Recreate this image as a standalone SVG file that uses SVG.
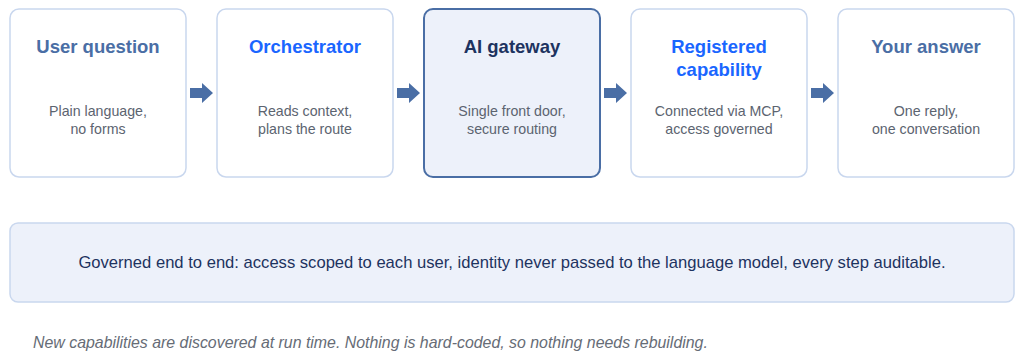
<svg xmlns="http://www.w3.org/2000/svg" width="1024" height="362" viewBox="0 0 1024 362">
<defs>
<style>
.box{fill:#ffffff;stroke:#c9d7ee;stroke-width:1.5}
.hl{fill:#edf1fa;stroke:#4a6ea5;stroke-width:2}
.t{font-family:"Liberation Sans",Arial,sans-serif;font-weight:bold;font-size:18.5px;text-anchor:middle}
.t1{fill:#4a6ea5}
.t2{fill:#1a66ff}
.t3{fill:#1d3360}
.s{font-family:"Liberation Sans",Arial,sans-serif;font-size:14.2px;fill:#5c6470;text-anchor:middle}
.arr{fill:#4a6ea5}
.ban{fill:#edf1fa;stroke:#c9d7ee;stroke-width:1.5}
.bt{font-family:"Liberation Sans",Arial,sans-serif;font-size:16.6px;fill:#1d3360;text-anchor:middle}
.ft{font-family:"Liberation Sans",Arial,sans-serif;font-size:15.9px;font-style:italic;fill:#666c76}
</style>
<path id="ar" d="M0,-5 H12 V-10 L23,0 L12,10 V5 H0 Z"/>
</defs>
<g id="n1">
<rect class="box" x="10" y="9" width="176" height="168" rx="9"/>
<text class="t t1" x="98" y="53">User question</text>
<text class="s" x="98" y="116">Plain language,</text>
<text class="s" x="98" y="134">no forms</text>
</g>
<g id="n2">
<rect class="box" x="217" y="9" width="176" height="168" rx="9"/>
<text class="t t2" x="305" y="53">Orchestrator</text>
<text class="s" x="305" y="116">Reads context,</text>
<text class="s" x="305" y="134">plans the route</text>
</g>
<g id="n3">
<rect class="hl" x="424" y="9" width="176" height="168" rx="9"/>
<text class="t t3" x="512" y="53">AI gateway</text>
<text class="s" x="512" y="116">Single front door,</text>
<text class="s" x="512" y="134">secure routing</text>
</g>
<g id="n4">
<rect class="box" x="631" y="9" width="176" height="168" rx="9"/>
<text class="t t2" x="719" y="53">Registered</text>
<text class="t t2" x="719" y="76">capability</text>
<text class="s" x="719" y="116">Connected via MCP,</text>
<text class="s" x="719" y="134">access governed</text>
</g>
<g id="n5">
<rect class="box" x="838" y="9" width="176" height="168" rx="9"/>
<text class="t t1" x="926" y="53">Your answer</text>
<text class="s" x="926" y="116">One reply,</text>
<text class="s" x="926" y="134">one conversation</text>
</g>
<g id="connectors">
<use href="#ar" class="arr" x="190" y="93"/>
<use href="#ar" class="arr" x="397" y="93"/>
<use href="#ar" class="arr" x="604" y="93"/>
<use href="#ar" class="arr" x="811" y="93"/>
</g>
<g id="banner">
<rect class="ban" x="10" y="223" width="1004" height="79" rx="8"/>
<text class="bt" x="512" y="268">Governed end to end: access scoped to each user, identity never passed to the language model, every step auditable.</text>
</g>
<text class="ft" x="33" y="348">New capabilities are discovered at run time. Nothing is hard-coded, so nothing needs rebuilding.</text>
</svg>
